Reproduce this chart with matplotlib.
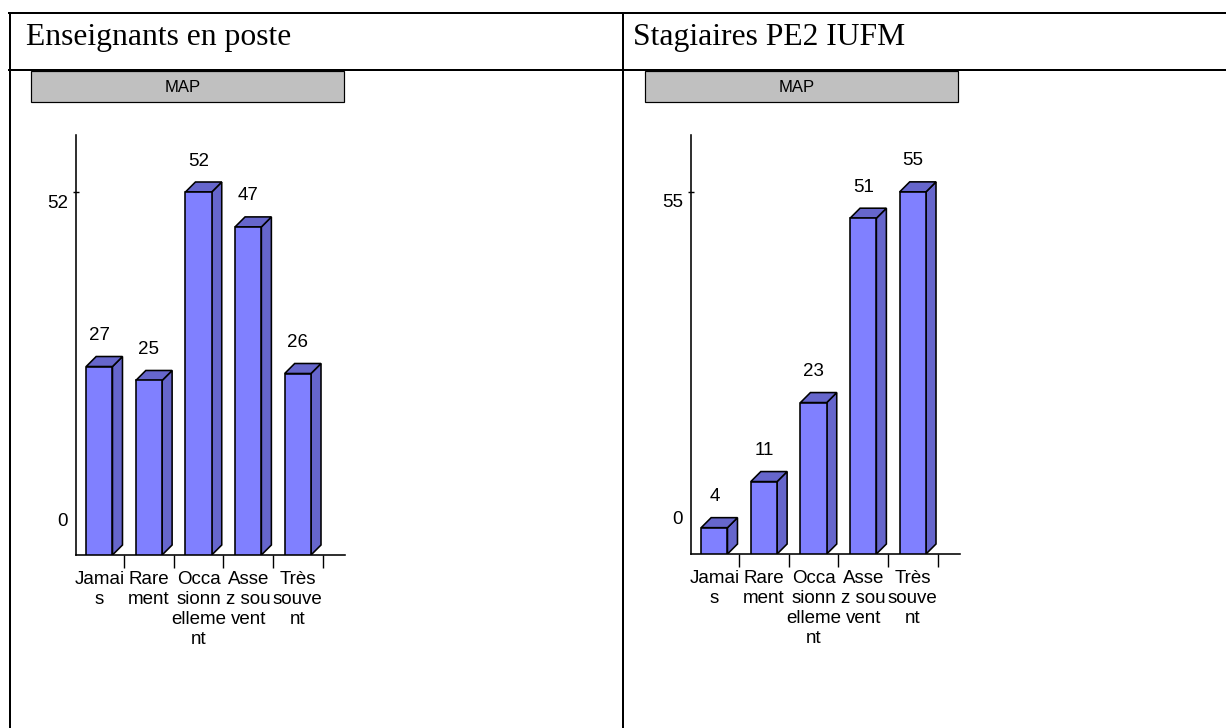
import matplotlib
matplotlib.use("Agg")
import matplotlib.pyplot as plt
from matplotlib.patches import Rectangle, Polygon
from matplotlib.lines import Line2D

# Survey answers, one bar per frequency level
categories = ["Jamais", "Rarement", "Occasionnellement", "Assez souvent", "Très souvent"]
tick_labels = ["Jamai\ns", "Rare\nment", "Occa\nsionn\nelleme\nnt", "Asse\nz sou\nvent", "Très\nsouve\nnt"]
enseignants = [27, 25, 52, 47, 26]
stagiaires = [4, 11, 23, 51, 55]
panel_titles = ["Enseignants en poste", "Stagiaires PE2 IUFM"]
chart_title = "MAP"

W, H = 1226, 728
DPI = 100
PT = 72 / DPI  # points per pixel

FRONT = "#8080FF"
SHADE = "#6666CC"
BOX_GREY = "#C0C0C0"
SANS = ["Liberation Sans", "DejaVu Sans"]
SERIF = ["Liberation Serif", "DejaVu Serif"]

fig = plt.figure(figsize=(W / DPI, H / DPI), dpi=DPI)
fig.patch.set_facecolor("white")


def fx(x):
    return x / W


def fy(y):
    return 1 - y / H


# Table grid around the two panels
for x0, y0, x1, y1 in [(9, 13, W, 13), (9, 70, W, 70), (10, 13, 10, H), (623, 13, 623, H)]:
    fig.add_artist(Line2D([fx(x0), fx(x1)], [fy(y0), fy(y1)], color="black",
                          linewidth=2 * PT, transform=fig.transFigure))

AX_W = 269      # width of the plotting area, px
AX_TOP = 135    # top of the value axis, px
DEPTH = 10      # 3-D depth offset, px
XMIN, XMAX = -0.47, 4.95
LABEL_SIZE = 13.5


def draw_panel(values, title, title_x, box_x, ax_left, baseline):
    # cell heading
    fig.text(fx(title_x), fy(45), title, family=SERIF, fontsize=22.8, va="baseline")

    # chart title box
    fig.add_artist(Rectangle((fx(box_x), fy(102)), 313 / W, 31 / H,
                             transform=fig.transFigure, facecolor=BOX_GREY,
                             edgecolor="black", linewidth=1.2 * PT))
    fig.text(fx(box_x + 152), fy(87), chart_title, family=SANS, fontsize=12,
             ha="center", va="center")

    ax_h = baseline - AX_TOP
    ax = fig.add_axes([fx(ax_left), fy(baseline), AX_W / W, ax_h / H])
    vmax = max(values)
    ymax = vmax * 420 / 363
    ax.set_xlim(XMIN, XMAX)
    ax.set_ylim(0, ymax)
    ax.patch.set_alpha(0)

    dx = DEPTH * (XMAX - XMIN) / AX_W
    dy = DEPTH * ymax / ax_h
    w = 0.53
    xs = list(range(len(values)))
    lw = 1.6 * PT
    for x, v in zip(xs, values):
        x0, x1 = x - w / 2, x + w / 2
        ax.add_patch(Polygon([(x1, 0), (x1 + dx, dy), (x1 + dx, v + dy), (x1, v)],
                             closed=True, facecolor=SHADE, edgecolor="black",
                             linewidth=lw, zorder=2, joinstyle="miter"))
        ax.add_patch(Polygon([(x0, v), (x0 + dx, v + dy), (x1 + dx, v + dy), (x1, v)],
                             closed=True, facecolor=SHADE, edgecolor="black",
                             linewidth=lw, zorder=2, joinstyle="miter"))
    ax.bar(xs, values, width=w, color=FRONT, edgecolor="black", linewidth=lw, zorder=3)

    for x, v in zip(xs, values):
        ax.annotate(str(v), xy=(x, v), xytext=(0, 31), textcoords="offset pixels",
                    ha="center", va="center", fontsize=LABEL_SIZE, family=SANS)

    # axes
    for side in ("top", "right"):
        ax.spines[side].set_visible(False)
    for side in ("left", "bottom"):
        ax.spines[side].set_linewidth(1.6 * PT)

    ax.set_xticks(xs)
    ax.set_xticklabels(tick_labels, family=SANS, fontsize=LABEL_SIZE)
    for lab in ax.get_xticklabels():
        lab.set_linespacing(1.23)
    ax.tick_params(axis="x", which="major", length=0, pad=16 * PT)
    ax.set_xticks([x + 0.5 for x in xs], minor=True)
    ax.tick_params(axis="x", which="minor", length=13 * PT, width=1.4 * PT, direction="out")

    ax.set_yticks([vmax])
    ax.set_yticklabels([])
    ax.tick_params(axis="y", length=6 * PT, width=1.4 * PT, direction="inout")

    ytr = ax.get_yaxis_transform()
    ax.annotate(str(vmax), xy=(0, vmax), xycoords=ytr, xytext=(-8, -11),
                textcoords="offset pixels", ha="right", va="center",
                fontsize=LABEL_SIZE, family=SANS)
    ax.annotate("0", xy=(0, 0), xycoords=ytr, xytext=(-8, 34),
                textcoords="offset pixels", ha="right", va="center",
                fontsize=LABEL_SIZE, family=SANS)
    return ax


draw_panel(enseignants, panel_titles[0], 26, 31, 76, 555)
draw_panel(stagiaires, panel_titles[1], 633, 645, 691, 554)

fig.savefig("out.png", dpi=DPI, facecolor="white")
